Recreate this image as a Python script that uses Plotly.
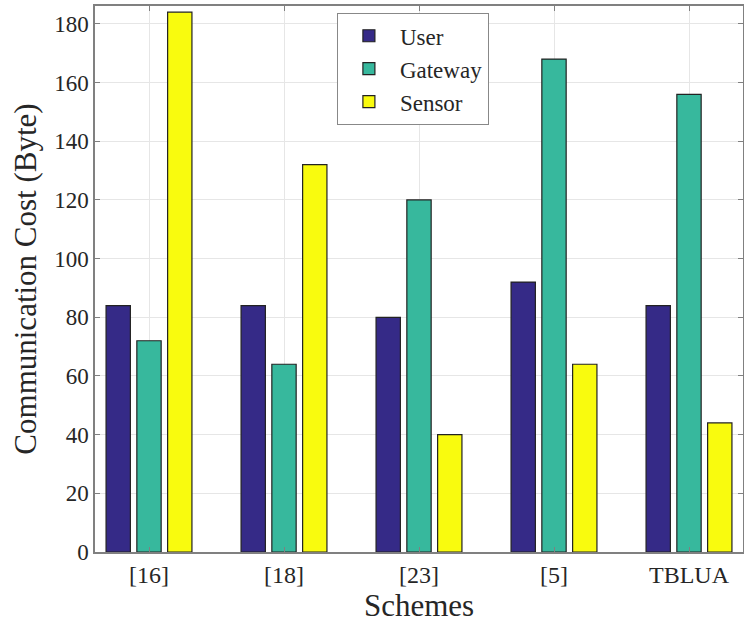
import plotly.graph_objects as go

schemes = ["[16]", "[18]", "[23]", "[5]", "TBLUA"]
user = [84, 84, 80, 92, 84]
gateway = [72, 64, 120, 168, 156]
sensor = [184, 132, 40, 64, 44]
y_ticks = [0, 20, 40, 60, 80, 100, 120, 140, 160, 180]

x_pos = [1, 2, 3, 4, 5]
font = "Liberation Serif"
fig = go.Figure()
for name, vals, col in [("User", user, "#352a87"), ("Gateway", gateway, "#37b89d"), ("Sensor", sensor, "#f9fb0e")]:
    fig.add_trace(go.Bar(x=x_pos, y=vals, name=name, marker=dict(color=col, line=dict(color="#222222", width=1.2))))

fig.update_layout(
    width=744, height=624,
    margin=dict(l=95, r=1, t=6, b=72),
    barmode="group", bargap=0.316, bargroupgap=0.21,
    plot_bgcolor="white", paper_bgcolor="white",
    font=dict(family=font, color="#262626", size=22),
    legend=dict(x=0.373, y=0.987, xanchor="left", yanchor="top",
                bordercolor="#888888", borderwidth=1.2, bgcolor="white",
                font=dict(family=font, size=23, color="#262626"),
                tracegroupgap=0, itemwidth=52),
)
fig.update_xaxes(range=[0.6, 5.4], tickvals=x_pos, ticktext=schemes, automargin=False,
                 showgrid=True, gridcolor="#e6e6e6", gridwidth=1,
                 showline=True, linecolor="#808080", linewidth=1.5, mirror="ticks",
                 ticks="inside", ticklen=5, tickcolor="#808080",
                 tickfont=dict(family=font, size=24, color="#262626"),
                 title=dict(text="Schemes", font=dict(family=font, size=31, color="#262626"), standoff=2))
fig.update_yaxes(range=[0, 186.1], tickvals=y_ticks, automargin=False,
                 showgrid=True, gridcolor="#e6e6e6", gridwidth=1,
                 showline=True, linecolor="#808080", linewidth=1.5, mirror="ticks",
                 ticks="inside", ticklen=5, tickcolor="#808080", zeroline=False,
                 tickfont=dict(family=font, size=23, color="#262626"),
                 title=dict(text="Communication Cost (Byte)", font=dict(family=font, size=31, color="#262626"), standoff=8))
fig.write_html("out.html", config={"displayModeBar": False},
               post_script="document.body.style.margin='0';document.body.style.padding='0';")
